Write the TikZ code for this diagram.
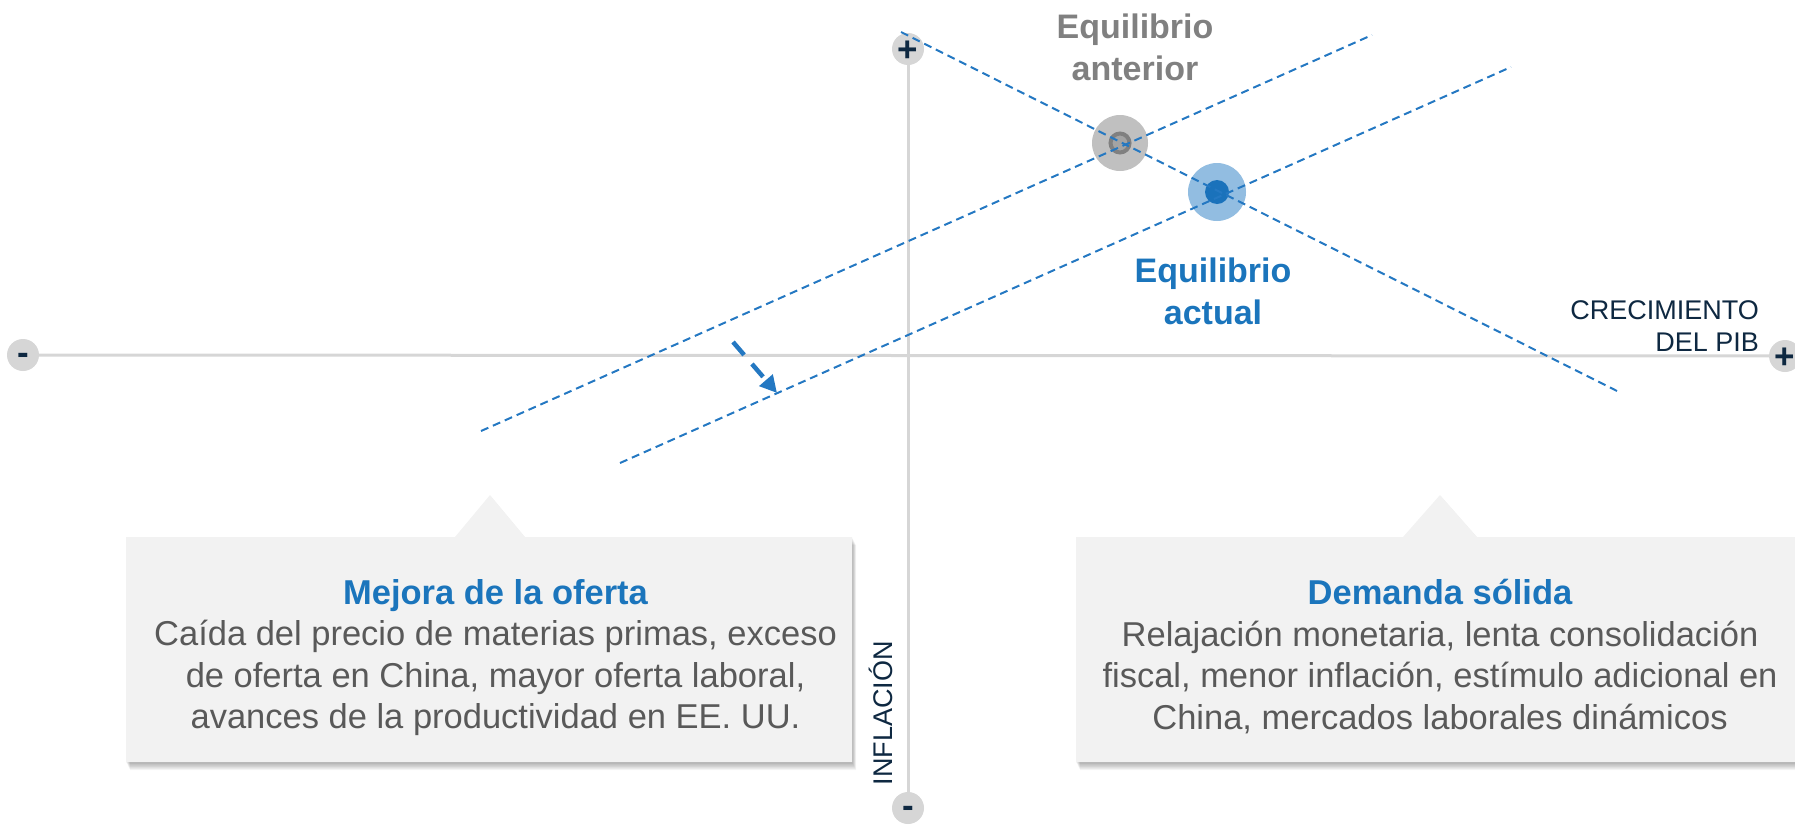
\documentclass[tikz,border=0pt]{standalone}
\usepackage{fontspec}
\setmainfont{Liberation Sans}
\usetikzlibrary{arrows.meta}
\definecolor{axisgray}{HTML}{D6D6D6}
\definecolor{navy}{HTML}{0E2841}
\definecolor{lineblue}{HTML}{2478C2}
\definecolor{titleblue}{HTML}{1B75BC}
\definecolor{bodygray}{HTML}{595959}
\definecolor{boxfill}{HTML}{F2F2F2}
\definecolor{oldouter}{HTML}{C0C0C0}
\definecolor{oldring}{HTML}{808080}
\definecolor{oldcore}{HTML}{A3A3A3}
\definecolor{newouter}{HTML}{92BDE1}
\definecolor{newinner}{HTML}{1A72BB}
\definecolor{labelgray}{HTML}{808080}
\begin{document}
\begin{tikzpicture}[x=1pt,y=-1pt,
  axisline/.style={draw=axisgray, line width=3pt},
  endcap/.style={circle, fill=axisgray, minimum size=32pt, inner sep=0pt, text=navy,
    font=\fontsize{35}{35}\selectfont\bfseries, text depth=0pt},
  pluscap/.style={endcap, text height=24pt},
  minuscap/.style={endcap, text height=19pt},
  curveline/.style={draw=lineblue, line width=2pt, dash pattern=on 8pt off 5pt},
  shiftarrow/.style={draw=lineblue, line width=4.5pt, dash pattern=on 17pt off 12pt,
    -{Triangle[length=17pt,width=17pt]}},
  axislabel/.style={inner sep=0pt, text=navy, font=\fontsize{27}{32}\selectfont},
  eqlabel/.style={inner sep=0pt, align=center, font=\fontsize{34}{42}\selectfont\bfseries},
  callout/.style={fill=boxfill},
  softshadow/.style={fill=black, opacity=0.04},
  boxtext/.style={inner sep=0pt, align=center, text=bodygray, font=\fontsize{34.5}{41.5}\selectfont},
]
\useasboundingbox (0,0) rectangle (1795,825);

% callout boxes with soft shadows
\def\leftshape{(126,537) -- (455,537) -- (490,495) -- (525,537) -- (852,537) -- (852,762) -- (126,762) -- cycle}
\def\rightshape{(1076,537) -- (1403,537) -- (1440,495) -- (1477,537) -- (1830,537) -- (1830,762) -- (1076,762) -- cycle}
\foreach \s in {1,...,9}{
  \path[softshadow, shift={(0.45*\s,0.9*\s)}] \leftshape;
  \path[softshadow, shift={(0.45*\s,0.9*\s)}] \rightshape;
}
\path[callout] \leftshape;
\path[callout] \rightshape;

% axes
\node[minuscap] (xminus) at (23,355) {-};
\node[pluscap] (xplus) at (1785,356) {+};
\node[pluscap] (yplus) at (908,49) {+};
\node[minuscap] (yminus) at (908,808) {-};
\draw[axisline] (xminus) -- (xplus);
\draw[axisline] (yplus) -- (yminus);

\node[axislabel, anchor=north east, align=right] (gdp) at (1759,300) {CRECIMIENTO\\DEL PIB};
\node[axislabel, anchor=base, rotate=90] (infl) at (892,713) {INFLACIÓN};

% equilibria
\node[circle, fill=oldouter, minimum size=56pt, inner sep=0pt] (oldeq) at (1120,143) {};
\node[circle, fill=oldcore, draw=oldring, line width=4pt, minimum size=19pt, inner sep=0pt] (oldcoreN) at (oldeq) {};
\node[circle, fill=newouter, minimum size=58pt, inner sep=0pt] (neweq) at (1217,192) {};
\node[circle, fill=newinner, minimum size=24pt, inner sep=0pt] (newcoreN) at (neweq) {};

% curves
\coordinate (dA) at (901,32);
\coordinate (dB) at (1617,391);
\coordinate (sA) at (481,431);
\coordinate (sB) at (1372,35);
\coordinate (tA) at (620,463);
\coordinate (tB) at (1511,67);
\draw[curveline] (dA) -- (dB);
\draw[curveline] (sA) -- (sB);
\draw[curveline] (tA) -- (tB);

% shift arrow
\coordinate (arA) at (733,342);
\coordinate (arB) at (777,393);
\draw[shiftarrow] (arA) -- (arB);

% labels
\node[eqlabel, text=labelgray, anchor=north] (oldlab) at (1135,14) {Equilibrio\\anterior};
\node[eqlabel, text=titleblue, anchor=north] (newlab) at (1213,258) {Equilibrio\\actual};

% box texts
\node[boxtext, anchor=north] (lefttext) at (495.5,579)
  {{\bfseries\color{titleblue}Mejora de la oferta}\\
   Caída del precio de materias primas, exceso\\
   de oferta en China, mayor oferta laboral,\\
   avances de la productividad en EE. UU.};
\node[boxtext, anchor=north] (righttext) at (1440,579)
  {{\bfseries\color{titleblue}Demanda sólida}\\
   Relajación monetaria, lenta consolidación\\
   fiscal, menor inflación, estímulo adicional en\\
   China, mercados laborales dinámicos};
\end{tikzpicture}
\end{document}
